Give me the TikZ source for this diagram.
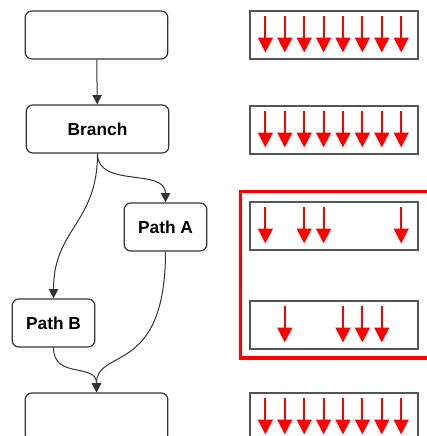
\documentclass[tikz,border=0pt]{standalone}
\usepackage{fontspec}
\setmainfont{Liberation Sans}
\usetikzlibrary{arrows.meta,positioning,calc}
\definecolor{Edge}{HTML}{333333}
\definecolor{Lane}{HTML}{555555}
\definecolor{Hot}{HTML}{FF0000}

\begin{document}
\begin{tikzpicture}[x=0.75pt,y=-0.75pt,
      stage/.style={rounded corners=5pt,draw=Edge,line width=0.9pt,fill=white,
        minimum width=107pt,minimum height=36pt,inner sep=0pt,
        font=\fontsize{13}{15}\selectfont\bfseries},
      pathbox/.style={stage,minimum width=62pt},
      lane/.style={draw=Lane,line width=0.9pt,minimum width=126pt,
        minimum height=36pt,inner sep=0pt},
      flow/.style={-{Triangle[length=7pt,width=7pt]},draw=Edge,line width=0.75pt},
      drop/.style={-{Triangle[length=11pt,width=11pt]},Hot,line width=1.4pt},
      hot/.style={draw=Hot,line width=2.3pt}
    ]
      \useasboundingbox (0,0) rectangle (427,436);
      \clip (0,0) rectangle (427,436);
      % flow chart
      \node[stage] (start) at (96.5,35) {};
      \node[stage] (branch) at (97.5,129) {Branch};
      \node[pathbox] (pa) at (165.5,227) {Path A};
      \node[pathbox] (pb) at (53.5,323) {Path B};
      \node[stage] (join) at (96.5,417) {};
      \draw[flow] (start)--(branch);
      \draw[flow] (branch.south) .. controls +(0,35) and +(0,-35) .. (pa.north);
      \draw[flow] (branch.south) .. controls +(0,70) and +(0,-70) .. (pb.north);
      \draw[flow] (pa.south) .. controls +(0,125) and +(0,-45) .. (join.north);
      \draw[flow] (pb.south) .. controls +(0,32) and +(0,-30) .. (join.north);
      % lanes
      \node[lane] (l1) at (334,35) {};
      \node[lane] (l2) at (334,130) {};
      \node[lane] (l3) at (334,226) {};
      \node[lane] (l4) at (334,325) {};
      \node[lane] (l5) at (334,417) {};
      \foreach \i in {1,...,8}
        \draw[drop] ($(l1.north west)+(16+19.4*\i-19.4,6)$)--++(0,36);
      \foreach \i in {1,...,8}
        \draw[drop] ($(l2.north west)+(16+19.4*\i-19.4,6)$)--++(0,36);
      \foreach \i in {1,3,4,8}
        \draw[drop] ($(l3.north west)+(16+19.4*\i-19.4,6)$)--++(0,36);
      \foreach \i in {2,5,6,7}
        \draw[drop] ($(l4.north west)+(16+19.4*\i-19.4,6)$)--++(0,36);
      \foreach \i in {1,...,8}
        \draw[drop] ($(l5.north west)+(16+19.4*\i-19.4,6)$)--++(0,36);
      \draw[hot] (240.5,191.5) rectangle (432,358);
    \end{tikzpicture}
\end{document}
